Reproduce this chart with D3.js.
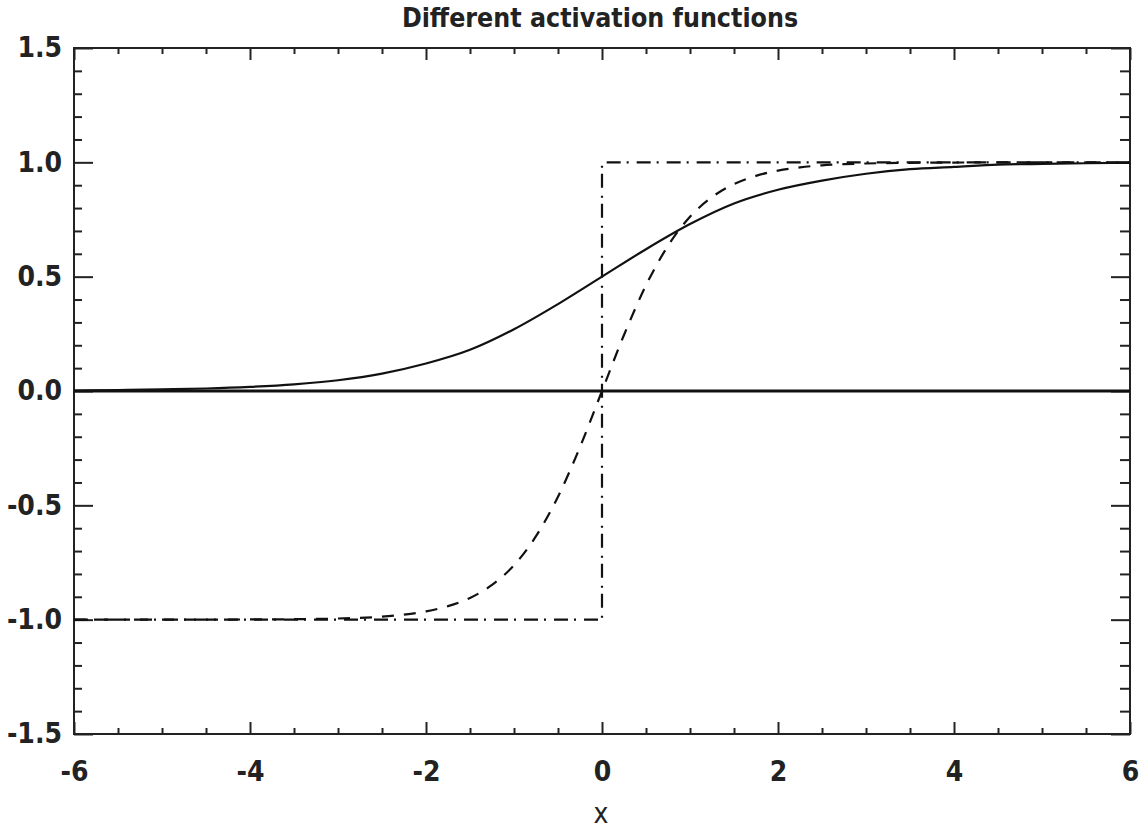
<!DOCTYPE html>
<html>
<head>
<meta charset="utf-8">
<script src="https://cdn.jsdelivr.net/npm/d3@7"></script>
<style>
  body { margin: 0; background: #fff; }
  text { font-family: "DejaVu Sans Condensed", "DejaVu Sans", sans-serif; font-stretch: condensed; fill: #222; }
</style>
</head>
<body>
<div id="chart"></div>
<script>
// values
var sigmoidX = [-6, -5.5, -5, -4.5, -4, -3.5, -3, -2.5, -2, -1.5, -1, -0.5, 0,
                0.5, 1, 1.5, 2, 2.5, 3, 3.5, 4, 4.5, 5, 5.5, 6];
var sigmoidY = [0.002, 0.004, 0.007, 0.011, 0.018, 0.029, 0.047, 0.076, 0.12, 0.18, 0.27, 0.38, 0.50,
                0.62, 0.73, 0.82, 0.88, 0.92, 0.95, 0.97, 0.98, 0.99, 0.993, 0.996, 0.998];

var tanhX = [-6, -5.5, -5, -4.5, -4, -3.5, -3, -2.75, -2.5, -2.25, -2, -1.75, -1.5, -1.25, -1, -0.75, -0.5, -0.25, 0,
             0.25, 0.5, 0.75, 1, 1.25, 1.5, 1.75, 2, 2.25, 2.5, 2.75, 3, 3.5, 4, 4.5, 5, 5.5, 6];
var tanhY = [-1, -1, -1, -1, -0.999, -0.998, -0.995, -0.992, -0.987, -0.978, -0.964, -0.941, -0.905, -0.848, -0.762, -0.635, -0.462, -0.245, 0,
             0.245, 0.462, 0.635, 0.762, 0.848, 0.905, 0.941, 0.964, 0.978, 0.987, 0.992, 0.995, 0.998, 0.999, 1, 1, 1, 1];

var stepX = [-6, 0, 0, 6];
var stepY = [-1, -1, 1, 1];

var zeroX = [-6, 6];
var zeroY = [0, 0];

var xTicks = [-6, -4, -2, 0, 2, 4, 6];
var yTicks = [-1.5, -1.0, -0.5, 0.0, 0.5, 1.0, 1.5];

var width = 1147, height = 832
var mLeft = 74, mRight = 1130, mTop = 48, mBottom = 734

var svg = d3.select("#chart")
            .append("svg")
            .attr("width", width)
            .attr("height", height)

var x = d3.scaleLinear().domain([-6, 6]).range([mLeft, mRight])
var y = d3.scaleLinear().domain([-1.5, 1.5]).range([mBottom, mTop])

var xMinor = d3.range(-5.5, 6, 0.5).filter((d) => xTicks.indexOf(d) < 0)
var yMinor = d3.range(-14, 15).map((d) => d / 10).filter((d) => Math.abs(d * 2 - Math.round(d * 2)) > 1e-6)

// plain hyphen for negatives, like the original
var fmtX = (d) => String(d)
var fmtY = (d) => d.toFixed(1)

function styleAxis(g) {
    g.select(".domain").remove()
    g.selectAll("line").attr("stroke", "#222").attr("stroke-width", 2)
    g.selectAll("text")
        .style("font-size", "28px")
        .style("font-weight", "bold")
}

// bottom axis with labels
svg.append("g")
    .attr("transform", "translate(0," + mBottom + ")")
    .call(d3.axisBottom(x).tickValues(xTicks).tickSize(-12).tickPadding(27).tickFormat(fmtX))
    .call(styleAxis)
svg.append("g")
    .attr("transform", "translate(0," + mBottom + ")")
    .call(d3.axisBottom(x).tickValues(xMinor).tickSize(-6).tickFormat(""))
    .call(styleAxis)

// top axis, ticks only
svg.append("g")
    .attr("transform", "translate(0," + mTop + ")")
    .call(d3.axisTop(x).tickValues(xTicks).tickSize(-12).tickFormat(""))
    .call(styleAxis)
svg.append("g")
    .attr("transform", "translate(0," + mTop + ")")
    .call(d3.axisTop(x).tickValues(xMinor).tickSize(-6).tickFormat(""))
    .call(styleAxis)

// left axis with labels
svg.append("g")
    .attr("transform", "translate(" + mLeft + ",0)")
    .call(d3.axisLeft(y).tickValues(yTicks).tickSize(-19).tickPadding(12).tickFormat(fmtY))
    .call(styleAxis)
svg.append("g")
    .attr("transform", "translate(" + mLeft + ",0)")
    .call(d3.axisLeft(y).tickValues(yMinor).tickSize(-8).tickFormat(""))
    .call(styleAxis)

// right axis, ticks only
svg.append("g")
    .attr("transform", "translate(" + mRight + ",0)")
    .call(d3.axisRight(y).tickValues(yTicks).tickSize(-19).tickFormat(""))
    .call(styleAxis)
svg.append("g")
    .attr("transform", "translate(" + mRight + ",0)")
    .call(d3.axisRight(y).tickValues(yMinor).tickSize(-10).tickFormat(""))
    .call(styleAxis)

// frame
svg.append("rect")
    .attr("x", mLeft)
    .attr("y", mTop)
    .attr("width", mRight - mLeft)
    .attr("height", mBottom - mTop)
    .attr("fill", "none")
    .attr("stroke", "#222")
    .attr("stroke-width", 2)

var line = d3.line()
            .x((d) => x(d[0]))
            .y((d) => y(d[1]))

var series = [
    {xs: zeroX, ys: zeroY, dash: null, w: 3, curve: d3.curveLinear},
    {xs: sigmoidX, ys: sigmoidY, dash: null, w: 2.2, curve: d3.curveMonotoneX},
    {xs: tanhX, ys: tanhY, dash: "12,10", w: 2.2, curve: d3.curveMonotoneX},
    {xs: stepX, ys: stepY, dash: "14,6,2,8", w: 2.2, curve: d3.curveLinear}
]

series.forEach((s) => {
    var pts = s.xs.map((v, i) => [v, s.ys[i]])
    svg.append("path")
        .attr("d", line.curve(s.curve)(pts))
        .attr("fill", "none")
        .attr("stroke", "#111")
        .attr("stroke-width", s.w)
        .attr("stroke-dasharray", s.dash)
})

// titles
svg.append("text")
    .attr("x", 600)
    .attr("y", 27)
    .attr("text-anchor", "middle")
    .style("font-size", "26.5px")
    .style("font-weight", "bold")
    .text("Different activation functions")

svg.append("text")
    .attr("x", 601)
    .attr("y", 823)
    .attr("text-anchor", "middle")
    .style("font-size", "28px")
    .style("font-stretch", "normal")
    .text("x")
</script>
</body>
</html>
